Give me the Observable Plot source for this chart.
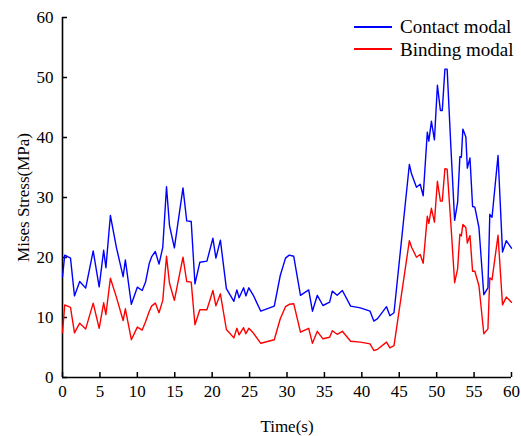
<!DOCTYPE html>
<html>
<head>
<meta charset="utf-8">
<script src="https://cdn.jsdelivr.net/npm/d3@7"></script>
<script src="https://cdn.jsdelivr.net/npm/@observablehq/plot@0.6"></script>
<style>
  body { margin: 0; background: white; }
  #wrap { position: relative; width: 521px; height: 436px; font-family: "Liberation Serif", serif; }
  #wrap svg text { font-family: "Liberation Serif", serif !important; font-variant-numeric: normal !important; }
  .leg { position: absolute; left: 354px; height: 19px; display: flex; align-items: center; font-size: 19px; line-height: 19px; white-space: nowrap; }
  .leg .sw { width: 38px; height: 2px; margin-right: 8px; }
</style>
</head>
<body>
<div id="wrap"></div>
<script>
const time = [0, 0.3, 1.07, 1.6, 2.3, 3.1, 4.1, 4.9, 5.5, 5.8,
  6.4, 7.2, 8.1, 8.4, 9.2, 10.0, 10.65, 11.1, 11.6, 11.9,
  12.4, 12.9, 13.4, 13.9, 14.3, 14.95, 16.1, 16.6, 17.2, 17.7,
  18.35, 19.3, 20.1, 20.5, 21.1, 21.9, 22.9, 23.3, 23.6, 24.2,
  24.5, 24.9, 25.5, 26.5, 28.3, 29.1, 29.8, 30.3, 30.9, 31.8,
  32.9, 33.4, 34.05, 34.8, 35.7, 36.05, 36.7, 37.4, 38.5, 39.8,
  41.1, 41.6, 42.1, 43.3, 43.75, 44.3, 46.35, 46.65, 47.3, 47.8,
  48.2, 48.75, 48.95, 49.3, 49.7, 50.1, 50.5, 50.75, 51.1, 51.4,
  51.9, 52.4, 52.8, 53.1, 53.3, 53.5, 53.9, 54.1, 54.45, 54.8,
  55.1, 55.65, 56.3, 56.85, 57.1, 57.4, 58.2, 58.8, 59.3, 60];
const contact = [16.8, 20.4, 19.9, 13.6, 16, 14.9, 21.1, 15.1, 21.2, 18.3,
  27, 21.7, 16.8, 19.6, 12.2, 15.05, 14.5, 15.9, 19.05, 20.1,
  21, 18.9, 21.7, 31.8, 25.3, 21.6, 31.6, 26.1, 26, 15.6,
  19.2, 19.4, 23.2, 19.9, 22.9, 14.8, 12.7, 14.6, 13.3, 14.95,
  13.6, 14.95, 13.7, 11.05, 11.9, 17, 19.9, 20.4, 20.2, 13.7,
  14.6, 11.05, 13.7, 12, 12.55, 14.4, 13.7, 14.5, 11.9, 11.6,
  11.05, 9.4, 9.8, 11.8, 10.3, 10.8, 35.5, 33.9, 31.7, 32.2,
  30.3, 40.9, 39.4, 42.7, 39.6, 48.7, 44.5, 44.5, 51.4, 51.4,
  38.4, 26.2, 29.2, 36.8, 36.7, 41.4, 40.1, 34.9, 36.6, 28.5,
  28.4, 25, 13.8, 14.95, 27.2, 26.7, 37, 20.9, 22.8, 21.55];
const binding = [7.5, 12.1, 11.7, 7.45, 9.05, 8.1, 12.4, 8.2, 12.45, 10.5,
  16.55, 13.4, 9.5, 11.45, 6.3, 8.4, 7.9, 9.3, 11.05, 11.9,
  12.4, 10.8, 12.85, 20.2, 15.7, 12.85, 20.05, 16, 15.9, 8.8,
  11.3, 11.3, 14.5, 11.95, 13.95, 8, 6.6, 8.2, 7.1, 8.3,
  7.3, 8.2, 7.4, 5.7, 6.3, 9.8, 11.8, 12.2, 12.3, 7.55,
  8.2, 5.7, 7.7, 6.45, 6.7, 7.8, 7.2, 7.7, 6.05, 5.9,
  5.6, 4.5, 4.7, 5.9, 4.95, 5.3, 22.8, 21.7, 20.05, 20.5,
  19.05, 26.9, 25.7, 28.2, 25.9, 32.7, 29.4, 29.4, 34.8, 34.7,
  25.6, 15.8, 18.1, 23.9, 23.6, 25.5, 25, 22.4, 23.65, 17.7,
  17.7, 15.3, 7.3, 8.1, 16.6, 16.3, 23.7, 12.1, 13.4, 12.55];
const xTicks = [0, 5, 10, 15, 20, 25, 30, 35, 40, 45, 50, 55, 60];
const yTicks = [0, 10, 20, 30, 40, 50, 60];
const seriesNames = ["Contact modal", "Binding modal"];
const seriesColors = ["#0000ff", "#ff0000"];
const xLabel = "Time(s)";
const yLabel = "Mises Stress(MPa)";

const W = 521, H = 436, mL = 62, mR = 10, mT = 17, mB = 59;
const frameW = W - mL - mR, frameH = H - mT - mB;
const contactData = time.map((t, i) => ({t, v: contact[i]}));
const bindingData = time.map((t, i) => ({t, v: binding[i]}));
const serif = "'Liberation Serif', serif";

const chart = Plot.plot({
  width: W, height: H,
  marginLeft: mL, marginRight: mR, marginTop: mT, marginBottom: mB,
  style: {fontFamily: serif, fontSize: "17px", color: "#000", background: "white", overflow: "visible"},
  x: {domain: [0, 60]},
  y: {domain: [0, 60]},
  marks: [
    Plot.axisX(xTicks, {tickSize: 0, tickPadding: 7, label: xLabel, labelAnchor: "center", labelOffset: 54, labelArrow: "none", fontSize: 17, fontFamily: serif}),
    Plot.axisY(yTicks, {tickSize: 0, tickPadding: 9, label: yLabel, labelAnchor: "center", labelOffset: 46, labelArrow: "none", fontSize: 17, fontFamily: serif}),
    Plot.tickX(xTicks, {x: d => d, insetTop: frameH - 5, stroke: "black", strokeWidth: 1.5}),
    Plot.tickY(yTicks, {y: d => d, insetRight: frameW - 5, stroke: "black", strokeWidth: 1.5}),
    Plot.ruleX([0], {stroke: "black", strokeWidth: 1.6}),
    Plot.ruleY([0], {stroke: "black", strokeWidth: 1.6}),
    Plot.line(bindingData, {x: "t", y: "v", stroke: seriesColors[1], strokeWidth: 1.4}),
    Plot.line(contactData, {x: "t", y: "v", stroke: seriesColors[0], strokeWidth: 1.4})
  ]
});
const wrap = document.getElementById("wrap");
wrap.appendChild(chart);

seriesNames.forEach((name, i) => {
  const d = document.createElement("div");
  d.className = "leg";
  d.style.top = (17 + i * 22.5) + "px";
  const sw = document.createElement("span");
  sw.className = "sw";
  sw.style.background = seriesColors[i];
  const tx = document.createElement("span");
  tx.textContent = name;
  d.appendChild(sw); d.appendChild(tx);
  wrap.appendChild(d);
});
</script>
</body>
</html>
